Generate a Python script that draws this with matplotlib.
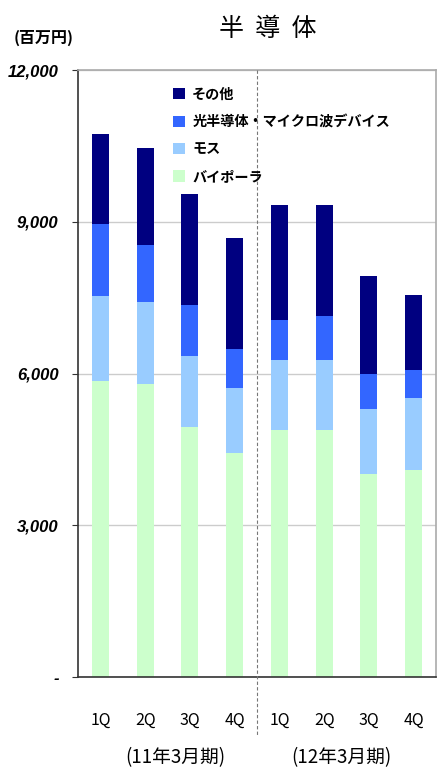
import matplotlib.pyplot as plt
import matplotlib.transforms as mtransforms
import numpy as np
from matplotlib.patches import Patch

plt.rcParams['font.family'] = ['Noto Sans CJK JP', 'DejaVu Sans']

# quarters and fiscal year groups
quarters = ["1Q", "2Q", "3Q", "4Q", "1Q", "2Q", "3Q", "4Q"]
periods = ["(11年3月期)", "(12年3月期)"]

# values in millions of yen
bipolar = [5850, 5790, 4940, 4420, 4880, 4880, 4010, 4090]
mos = [1690, 1620, 1400, 1290, 1380, 1380, 1280, 1420]
opto = [1410, 1130, 1010, 770, 790, 870, 710, 550]
other = [1780, 1910, 2190, 2190, 2280, 2200, 1920, 1490]

series_names = ["バイポーラ", "モス", "光半導体・マイクロ波デバイス", "その他"]
series_colors = ["#CCFFCC", "#99CCFF", "#3366FF", "#000080"]

yticks = [0, 3000, 6000, 9000, 12000]
ytick_labels = ["-", "3,000", "6,000", "9,000", "12,000"]


def main():
    fig = plt.figure(figsize=(4.39, 7.71), dpi=100)
    ax = fig.add_axes([0.1777, 0.1219, 0.8155, 0.7873])

    x = np.arange(len(quarters))
    bottom = np.zeros(len(quarters))
    for vals, col in zip([bipolar, mos, opto, other], series_colors):
        ax.bar(x, vals, width=0.38, bottom=bottom, color=col, zorder=2)
        bottom += np.array(vals)

    ax.set_xlim(-0.5, len(quarters) - 0.5)
    ax.set_ylim(0, 12000)
    ax.set_yticks(yticks)
    ax.set_yticklabels(ytick_labels, fontfamily="Liberation Sans", fontweight="bold",
                       fontstyle="italic", fontsize=12)
    ax.tick_params(axis="y", direction="out", length=4, pad=10, color="#333333")
    ax.set_xticks(x)
    ax.set_xticklabels(quarters, fontsize=11.5)
    ax.tick_params(axis="x", length=0, pad=25)
    ax.yaxis.grid(True, color="#cccccc", linewidth=1, zorder=0)

    for side in ["top", "right"]:
        ax.spines[side].set_color("#aaaaaa")
        ax.spines[side].set_linewidth(1.2)
    for side in ["left", "bottom"]:
        ax.spines[side].set_color("#333333")
        ax.spines[side].set_linewidth(1.2)

    # dashed divider between fiscal years
    trans = mtransforms.blended_transform_factory(ax.transData, ax.transAxes)
    ax.plot([3.5, 3.5], [1, -0.095], transform=trans, color="#777777", linestyle=(0, (3, 2)),
            linewidth=0.8, clip_on=False, zorder=3)

    # fiscal year labels (slightly off-centre, as in the original)
    for xpos, p in zip([1.67, 5.38], periods):
        ax.text(xpos, -0.132, p, transform=trans, ha="center", va="center", fontsize=13.5)

    # legend, top entry first
    handles = [Patch(facecolor=c, edgecolor="none") for c in series_colors[::-1]]
    ax.legend(handles, series_names[::-1], loc="upper left", bbox_to_anchor=(0.23, 0.992),
              frameon=False, handlelength=0.85, handleheight=0.85, handletextpad=0.5,
              labelspacing=0.95, prop={"size": 10.2, "weight": "bold"})

    fig.text(0.61, 0.963, "半  導  体", ha="center", va="center", fontsize=18)
    fig.text(0.03, 0.951, "(百万円)", ha="left", va="center", fontsize=11.5, fontweight="bold")

    fig.savefig("out.png", dpi=100)


main()
